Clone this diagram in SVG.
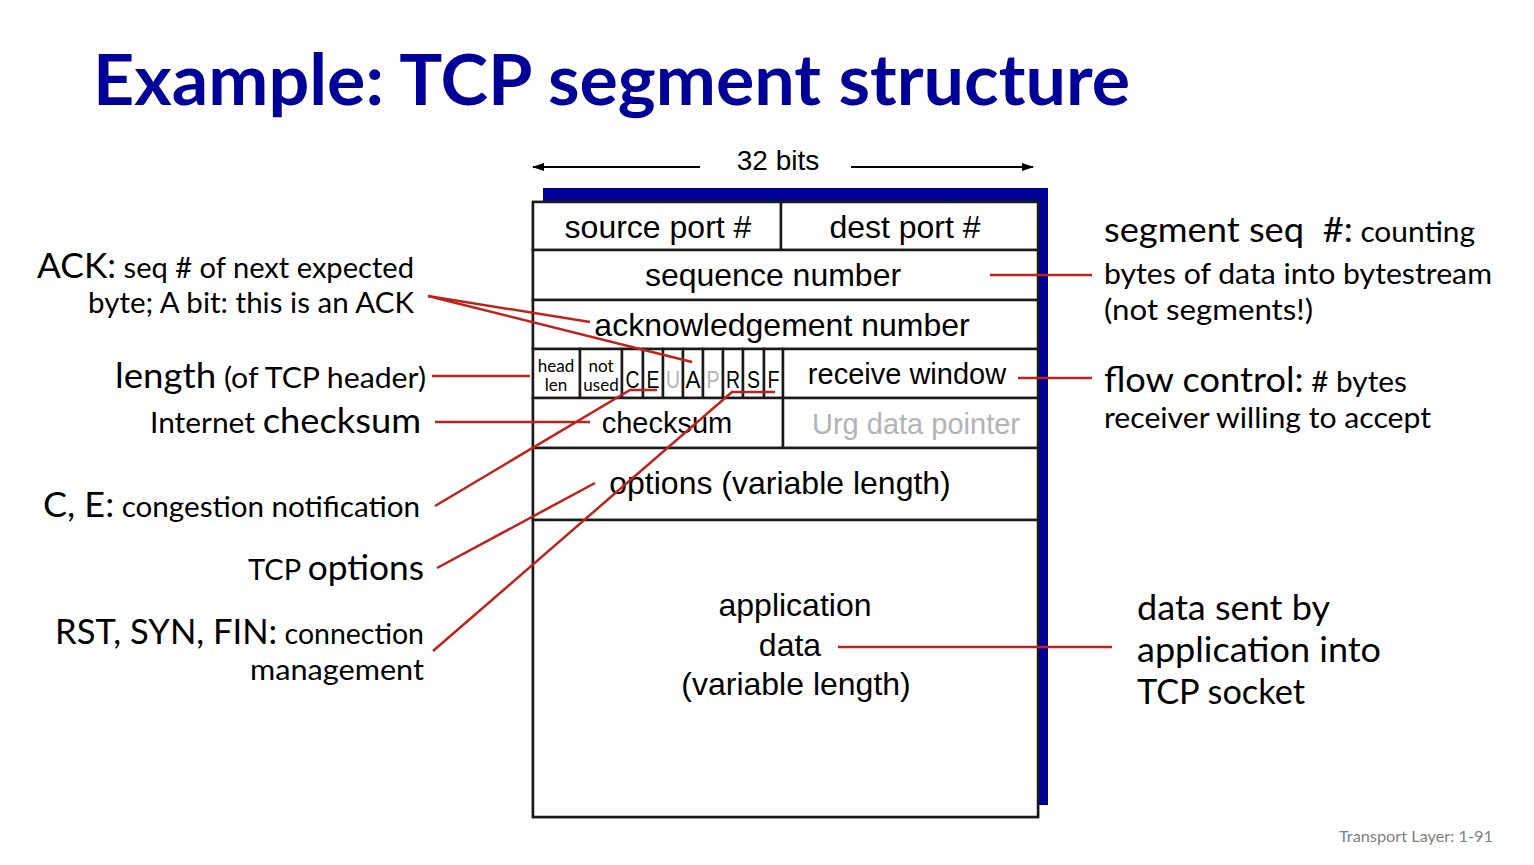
<svg xmlns="http://www.w3.org/2000/svg" width="1534" height="865" viewBox="0 0 1534 865">
<style>
.cell{fill:#fff;stroke:#1a1a1a;stroke-width:2.5}
.bx{font-family:"Liberation Sans",Arial,sans-serif;fill:#000;text-anchor:middle}
.b32{font-size:32px}
.b29{font-size:29px}
.fl{font-size:24px}
.sm{font-family:Lato,"Open Sans",sans-serif;font-size:17px;fill:#000;text-anchor:middle}
.gray{fill:#b3b3b3}
.ann{font-family:Lato,"Open Sans",sans-serif;fill:#000}
.big{font-size:34px}
.small{font-size:28px}
.r{text-anchor:end}
.red{stroke:#c0211b;stroke-width:2.5;fill:none}
.blk{stroke:#000;stroke-width:2;fill:none}
</style>
<defs>
<marker id="ah" viewBox="0 0 12 10" refX="11" refY="5" markerWidth="12" markerHeight="10" orient="auto-start-reverse" markerUnits="userSpaceOnUse">
<path d="M0,1 L12,5 L0,9 z" fill="#000"/>
</marker>
</defs>
<rect width="1534" height="865" fill="#fff"/>
<g id="title">
<text x="93" y="105" font-family="Lato,'Open Sans',sans-serif" font-weight="bold" font-size="70" fill="#000099" textLength="1037" lengthAdjust="spacingAndGlyphs">Example: TCP segment structure</text>
</g>
<g id="bits32">
<text class="bx" x="778" y="170" font-size="28">32 bits</text>
<line class="blk" x1="700" y1="167" x2="533" y2="167" marker-end="url(#ah)"/>
<line class="blk" x1="851" y1="167" x2="1033" y2="167" marker-end="url(#ah)"/>
</g>
<g id="segment">
<rect x="543" y="188" width="505" height="617" fill="#000099"/>
<rect class="cell" x="533" y="202" width="505" height="615"/>
</g>
<g id="src-port"><rect class="cell" x="533" y="202" width="248" height="48"/><text class="bx b32" x="658" y="238">source port #</text></g>
<g id="dst-port"><rect class="cell" x="781" y="202" width="257" height="48"/><text class="bx b32" x="905" y="238">dest port #</text></g>
<g id="seq-num"><rect class="cell" x="533" y="250" width="505" height="50"/><text class="bx b32" x="773" y="286">sequence number</text></g>
<g id="ack-num"><rect class="cell" x="533" y="300" width="505" height="49"/><text class="bx b32" x="782" y="336">acknowledgement number</text></g>
<g id="head-len"><rect class="cell" x="533" y="349" width="47" height="49"/><text class="sm" x="556" y="372">head</text><text class="sm" x="556" y="391">len</text></g>
<g id="not-used"><rect class="cell" x="580" y="349" width="42" height="49"/><text class="sm" x="601" y="372">not</text><text class="sm" x="601" y="391">used</text></g>
<g id="flag-c"><rect class="cell" x="622" y="349" width="21" height="49"/><text class="bx fl" x="632.5" y="388" textLength="14" lengthAdjust="spacingAndGlyphs">C</text></g>
<g id="flag-e"><rect class="cell" x="643" y="349" width="20" height="49"/><text class="bx fl" x="653" y="388" textLength="13" lengthAdjust="spacingAndGlyphs">E</text></g>
<g id="flag-u"><rect class="cell" x="663" y="349" width="20" height="49"/><text class="bx fl gray" x="673" y="388" textLength="14" lengthAdjust="spacingAndGlyphs">U</text></g>
<g id="flag-a"><rect class="cell" x="683" y="349" width="20" height="49"/><text class="bx fl" x="693" y="388" textLength="15" lengthAdjust="spacingAndGlyphs">A</text></g>
<g id="flag-p"><rect class="cell" x="703" y="349" width="20" height="49"/><text class="bx fl gray" x="713" y="388" textLength="13" lengthAdjust="spacingAndGlyphs">P</text></g>
<g id="flag-r"><rect class="cell" x="723" y="349" width="20" height="49"/><text class="bx fl" x="733" y="388" textLength="14" lengthAdjust="spacingAndGlyphs">R</text></g>
<g id="flag-s"><rect class="cell" x="743" y="349" width="21" height="49"/><text class="bx fl" x="753.5" y="388" textLength="13" lengthAdjust="spacingAndGlyphs">S</text></g>
<g id="flag-f"><rect class="cell" x="764" y="349" width="19" height="49"/><text class="bx fl" x="773.5" y="388" textLength="12" lengthAdjust="spacingAndGlyphs">F</text></g>
<g id="rwnd"><rect class="cell" x="783" y="349" width="255" height="49"/><text class="bx b29" x="907" y="384">receive window</text></g>
<g id="checksum"><rect class="cell" x="533" y="398" width="250" height="50"/><text class="bx b29" x="667" y="433">checksum</text></g>
<g id="urg-ptr"><rect class="cell" x="783" y="398" width="255" height="50"/><text class="bx b29 gray" x="916" y="434">Urg data pointer</text></g>
<g id="options"><rect class="cell" x="533" y="448" width="505" height="72"/><text class="bx b32" x="780" y="494">options (variable length)</text></g>
<g id="app-data"><rect class="cell" x="533" y="520" width="505" height="297"/>
<text class="bx b32" x="795" y="616">application</text>
<text class="bx b32" x="790" y="656">data</text>
<text class="bx b32" x="796" y="695">(variable length)</text></g>

<g id="ann-ack">
<text class="ann r" x="414" y="278" textLength="377" lengthAdjust="spacingAndGlyphs"><tspan class="big">ACK:</tspan><tspan class="small"> seq # of next expected</tspan></text>
<text class="ann r small" x="414" y="313" textLength="326" lengthAdjust="spacingAndGlyphs">byte; A bit: this is an ACK</text>
</g>
<g id="ann-length"><text class="ann r" x="426" y="388" textLength="311" lengthAdjust="spacingAndGlyphs"><tspan class="big">length</tspan><tspan class="small"> (of TCP header)</tspan></text></g>
<g id="ann-checksum"><text class="ann r" x="421" y="433" textLength="271" lengthAdjust="spacingAndGlyphs"><tspan class="small">Internet </tspan><tspan class="big">checksum</tspan></text></g>
<g id="ann-ce"><text class="ann r" x="420" y="517" textLength="377" lengthAdjust="spacingAndGlyphs"><tspan class="big">C, E:</tspan><tspan class="small"> congestion notification</tspan></text></g>
<g id="ann-options"><text class="ann r" x="424" y="580" textLength="176" lengthAdjust="spacingAndGlyphs"><tspan class="small">TCP </tspan><tspan class="big">options</tspan></text></g>
<g id="ann-rsf">
<text class="ann r" x="424" y="644" textLength="369" lengthAdjust="spacingAndGlyphs"><tspan class="big">RST, SYN, FIN:</tspan><tspan class="small"> connection</tspan></text>
<text class="ann r small" x="424" y="680" textLength="174" lengthAdjust="spacingAndGlyphs">management</text>
</g>
<g id="ann-seq">
<text class="ann" x="1104" y="242" textLength="371" lengthAdjust="spacingAndGlyphs" style="white-space:pre"><tspan class="big">segment seq  #:</tspan><tspan class="small"> counting</tspan></text>
<text class="ann small" x="1104" y="284" textLength="388" lengthAdjust="spacingAndGlyphs">bytes of data into bytestream</text>
<text class="ann small" x="1104" y="320" textLength="209" lengthAdjust="spacingAndGlyphs">(not segments!)</text>
</g>
<g id="ann-flow">
<text class="ann" x="1104" y="392" textLength="303" lengthAdjust="spacingAndGlyphs"><tspan class="big">flow control:</tspan><tspan class="small"> # bytes</tspan></text>
<text class="ann small" x="1104" y="428" textLength="327" lengthAdjust="spacingAndGlyphs">receiver willing to accept</text>
</g>
<g id="ann-data">
<text class="ann big" x="1137" y="620" textLength="193" lengthAdjust="spacingAndGlyphs">data sent by</text>
<text class="ann big" x="1137" y="662" textLength="244" lengthAdjust="spacingAndGlyphs">application into</text>
<text class="ann big" x="1137" y="704" textLength="168" lengthAdjust="spacingAndGlyphs">TCP socket</text>
</g>
<g id="footer"><text x="1493" y="842" font-family="Lato,'Open Sans',sans-serif" font-size="16" fill="#7f7f7f" text-anchor="end" textLength="154" lengthAdjust="spacingAndGlyphs">Transport Layer: 1-91</text></g>

<g id="connectors">
<line class="red" x1="428" y1="296" x2="590" y2="322"/>
<line class="red" x1="428" y1="296" x2="692" y2="362"/>
<line class="red" x1="990" y1="275" x2="1092" y2="275"/>
<line class="red" x1="432" y1="376" x2="530" y2="376"/>
<line class="red" x1="435" y1="422" x2="590" y2="422"/>
<polyline class="red" points="435,506 630,390 657,390"/>
<line class="red" x1="437" y1="568" x2="595" y2="483"/>
<polyline class="red" points="433,651 732,392 775,392"/>
<line class="red" x1="1018" y1="378" x2="1092" y2="378"/>
<line class="red" x1="838" y1="647" x2="1112" y2="647"/>
</g>
</svg>
